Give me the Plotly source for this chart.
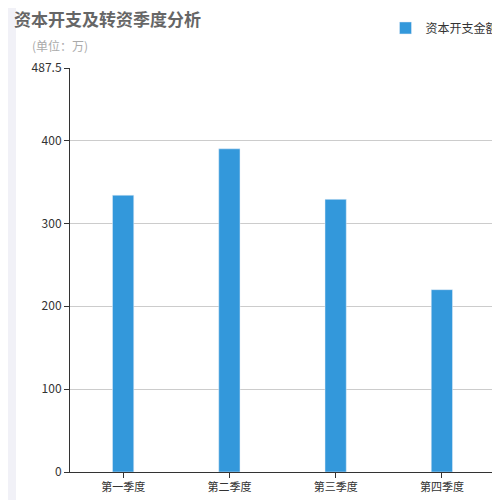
import plotly.graph_objects as go

quarters = ["第一季度", "第二季度", "第三季度", "第四季度"]
capex = [334, 390, 329, 220]
y_ticks = [0, 100, 200, 300, 400, 487.5]
y_labels = ["0", "100", "200", "300", "400", "487.5"]

fig = go.Figure(go.Bar(
    x=quarters, y=capex, name="资本开支金额",
    marker_color="#3398db", width=0.2,
))

fig.update_layout(
    width=500, height=500,
    margin=dict(l=62, r=13, t=60, b=36, autoexpand=False),
    paper_bgcolor="white", plot_bgcolor="white",
    font=dict(family="Noto Sans CJK SC", size=12, color="#333"),
    title=dict(text="资本开支及转资季度分析", x=0.012, xanchor="left", y=0.988, yanchor="top",
               font=dict(size=17, color="#666", weight="bold")),
    showlegend=True,
    legend=dict(x=1.02, xanchor="right", y=1.135, yanchor="top", font=dict(size=12, color="#333"),
                bgcolor="rgba(0,0,0,0)"),
    annotations=[dict(text="(单位：万)", xref="paper", yref="paper", x=-0.095, y=1.055,
                      xanchor="left", yanchor="middle", showarrow=False,
                      font=dict(size=12, color="#aaa"))],
    shapes=[dict(type="rect", xref="paper", yref="paper", x0=-0.146, x1=-0.127, y0=-0.1, y1=1.15,
                 fillcolor="#f1f1f7", line_width=0, layer="below")],
)
fig.update_xaxes(showline=True, linecolor="#333", ticks="outside", tickcolor="#333",
                 showgrid=False, tickfont=dict(size=11))
fig.update_yaxes(range=[0, 487.5], tickvals=y_ticks, ticktext=y_labels, showline=True,
                 linecolor="#333", ticks="outside", tickcolor="#333", gridcolor="#ccc",
                 zeroline=False, tickfont=dict(size=12))

fig.write_html("out.html")
